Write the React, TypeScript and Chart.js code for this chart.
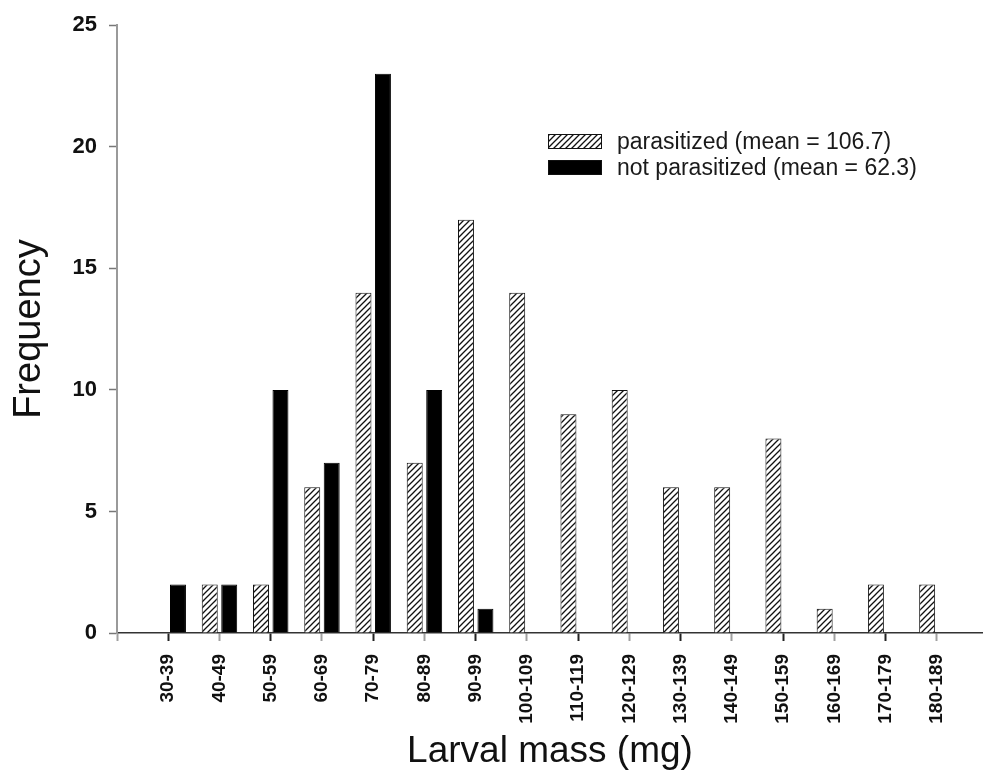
import React, { useEffect, useRef } from "react";
import { Chart, registerables } from "chart.js";

Chart.register(...registerables);

const categories = [
  "30-39", "40-49", "50-59", "60-69", "70-79", "80-89", "90-99", "100-109",
  "110-119", "120-129", "130-139", "140-149", "150-159", "160-169", "170-179", "180-189",
];
const parasitized = [0, 2, 2, 6, 14, 7, 17, 14, 9, 10, 6, 6, 8, 1, 2, 2];
const notParasitized = [2, 2, 10, 7, 23, 10, 1, 0, 0, 0, 0, 0, 0, 0, 0, 0];
const seriesLabels = ["parasitized (mean = 106.7)", "not parasitized (mean = 62.3)"];
const yMin = 0;
const yMax = 25;
const yStep = 5;
const xTitle = "Larval mass (mg)";
const yTitle = "Frequency";

const FONT = '"Liberation Sans", Arial, Helvetica, sans-serif';

function makeHatch(): CanvasPattern | string {
  const s = 6;
  const c = document.createElement("canvas");
  c.width = s;
  c.height = s;
  const g = c.getContext("2d");
  if (!g) return "#888";
  g.fillStyle = "#ffffff";
  g.fillRect(0, 0, s, s);
  g.strokeStyle = "#111111";
  g.lineWidth = 1.3;
  g.beginPath();
  g.moveTo(0, s);
  g.lineTo(s, 0);
  g.moveTo(-s / 2, s / 2);
  g.lineTo(s / 2, -s / 2);
  g.moveTo(s / 2, s * 1.5);
  g.lineTo(s * 1.5, s / 2);
  g.stroke();
  return g.createPattern(c, "repeat") || "#888";
}

const legendPlugin = {
  id: "inlineLegend",
  afterDraw(chart: any) {
    const ctx = chart.ctx as CanvasRenderingContext2D;
    const x0 = 548;
    const y0 = 134;
    const rowH = 26;
    const boxW = 54;
    const boxH = 15;
    ctx.save();
    chart.data.datasets.forEach((ds: any, i: number) => {
      const y = y0 + i * rowH;
      ctx.fillStyle = ds.backgroundColor;
      ctx.fillRect(x0, y, boxW, boxH);
      ctx.strokeStyle = "#111";
      ctx.lineWidth = 1;
      ctx.strokeRect(x0 + 0.5, y + 0.5, boxW - 1, boxH - 1);
      ctx.fillStyle = "#1a1a1a";
      ctx.font = `23px ${FONT}`;
      ctx.textBaseline = "middle";
      ctx.textAlign = "left";
      ctx.fillText(ds.label, 617, y + boxH / 2 + 1);
    });
    ctx.restore();
  },
};

export default function App() {
  const ref = useRef<HTMLCanvasElement | null>(null);

  useEffect(() => {
    if (!ref.current) return;
    const hatch = makeHatch();
    const toPoints = (arr: number[]) =>
      arr.map((v, i) => ({ x: i + 1, y: v === 0 ? null : v }));

    const chart = new Chart(ref.current, {
      type: "bar",
      data: {
        datasets: [
          {
            label: seriesLabels[0],
            data: toPoints(parasitized) as any,
            backgroundColor: hatch as any,
            borderColor: "#111",
            borderWidth: 1,
            categoryPercentage: 0.76,
            barPercentage: 0.82,
          },
          {
            label: seriesLabels[1],
            data: toPoints(notParasitized) as any,
            backgroundColor: "#000",
            borderColor: "#000",
            borderWidth: 1,
            categoryPercentage: 0.76,
            barPercentage: 0.82,
          },
        ],
      },
      options: {
        animation: false,
        responsive: false,
        maintainAspectRatio: false,
        layout: { padding: { top: 25, right: 0, bottom: 0, left: 0 } },
        plugins: {
          legend: { display: false },
          tooltip: { enabled: false },
        },
        scales: {
          x: {
            type: "linear",
            min: 0,
            max: 16.9,
            offset: false,
            ticks: {
              stepSize: 1,
              autoSkip: false,
              includeBounds: false,
              maxRotation: 90,
              minRotation: 90,
              padding: 13,
              color: "#111",
              font: { family: FONT, size: 19, weight: "bold" },
              callback: (v: any) => {
                const i = Math.round(Number(v));
                return i >= 1 && i <= categories.length ? categories[i - 1] : "";
              },
            },
            grid: {
              display: true,
              offset: false,
              drawOnChartArea: false,
              drawTicks: true,
              tickLength: 8,
              tickWidth: 2,
              tickColor: (c: any) =>
                c.tick && Math.round(c.tick.value) % 2 === 1 ? "#222" : "#a0a0a0",
            },
            border: { display: true, color: "#333", width: 1.5 },
            title: {
              display: true,
              text: xTitle,
              color: "#111",
              font: { family: FONT, size: 37 },
              padding: { top: 0, bottom: 2 },
            },
            afterFit: (s: any) => {
              s.height = 143;
            },
          } as any,
          y: {
            min: yMin,
            max: yMax,
            ticks: {
              stepSize: yStep,
              padding: 12,
              color: "#111",
              font: { family: FONT, size: 22, weight: "bold" },
            },
            grid: {
              display: true,
              drawOnChartArea: false,
              drawTicks: true,
              tickLength: 8,
              tickWidth: 1.5,
              tickColor: "#777",
            },
            border: { display: true, color: "#9a9a9a", width: 2 },
            title: {
              display: true,
              text: yTitle,
              color: "#111",
              font: { family: FONT, size: 38 },
              padding: { top: 7, bottom: 0 },
            },
            afterFit: (s: any) => {
              s.width = 117;
            },
          } as any,
        },
      },
      plugins: [legendPlugin],
    });
    return () => chart.destroy();
  }, []);

  return (
    <div style={{ position: "fixed", left: 0, top: 0, width: 983, height: 776, background: "#fff" }}>
      <canvas ref={ref} width={983} height={776} style={{ display: "block" }} />
    </div>
  );
}
